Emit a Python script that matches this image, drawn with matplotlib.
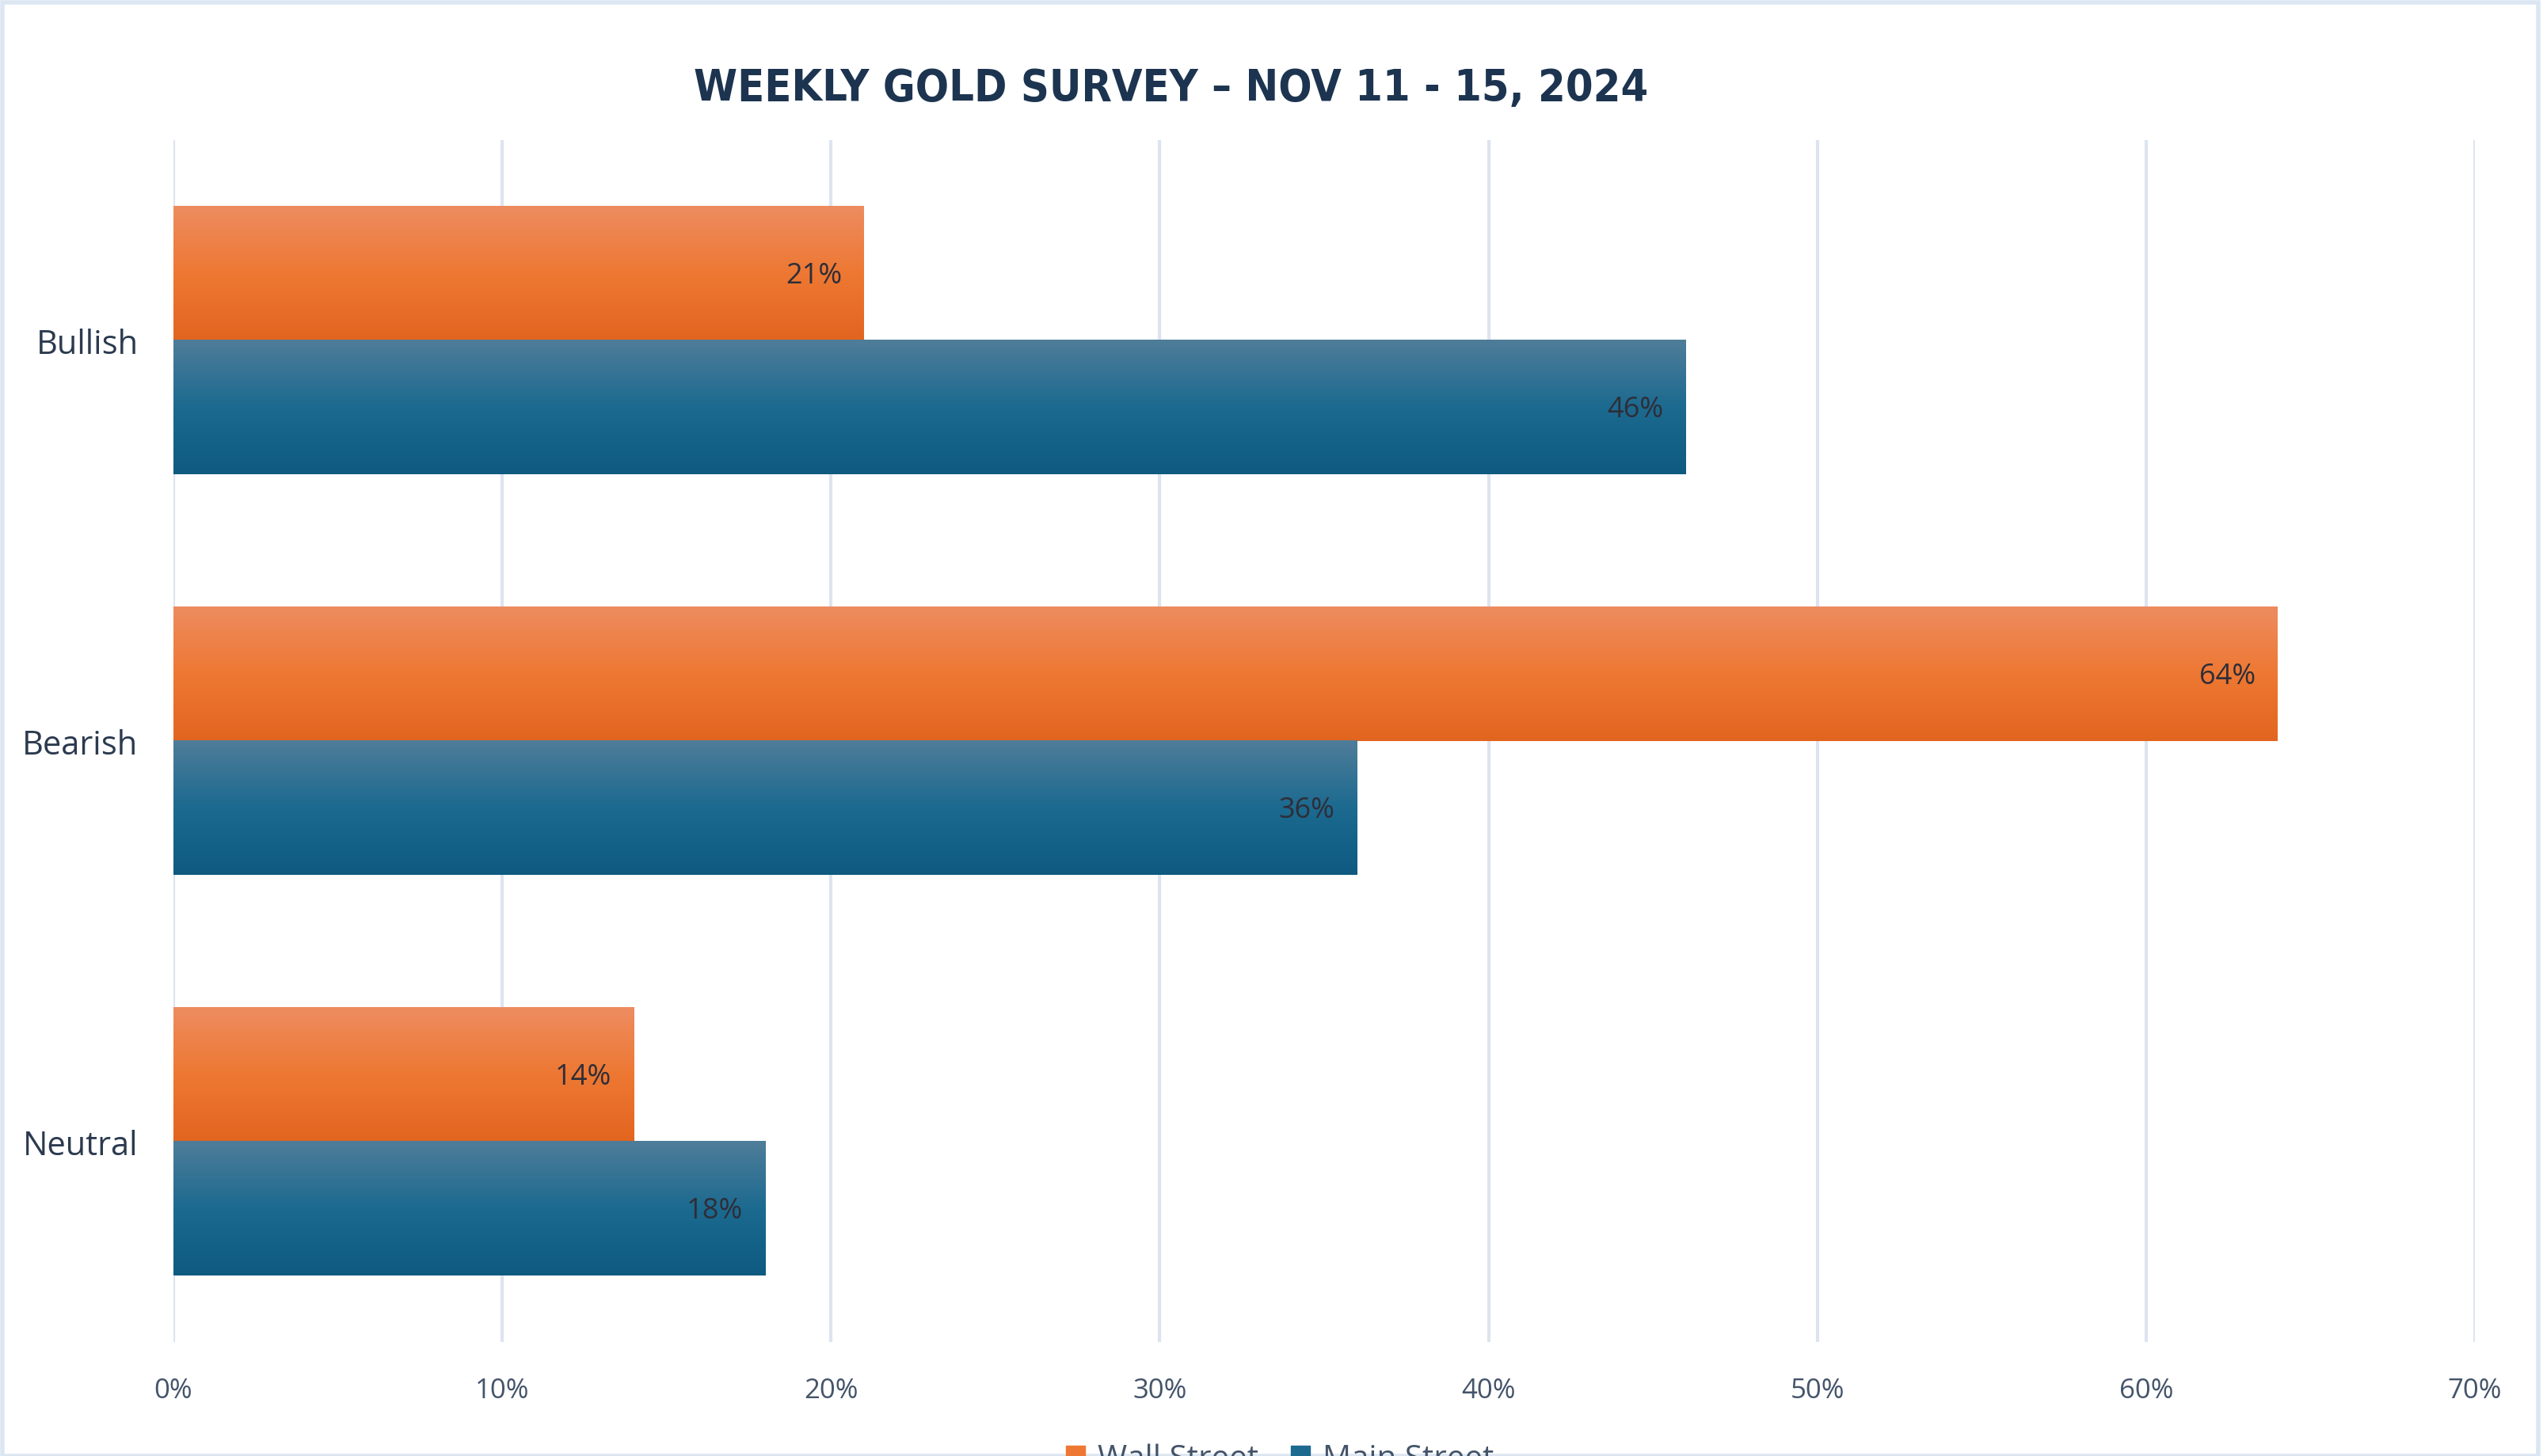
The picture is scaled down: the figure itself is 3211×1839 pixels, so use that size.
import matplotlib
matplotlib.use("Agg")
import matplotlib.pyplot as plt
import numpy as np
from matplotlib.colors import LinearSegmentedColormap
from matplotlib.patches import Rectangle

categories = ["Bullish", "Bearish", "Neutral"]
wall_street = [21, 64, 14]
main_street = [46, 36, 18]
series_names = ["Wall Street", "Main Street"]
x_ticks = [0, 10, 20, 30, 40, 50, 60, 70]

plt.rcParams['font.family'] = ['Open Sans', 'DejaVu Sans']

orange_cmap = LinearSegmentedColormap.from_list("orange", ["#ED8C60", "#EE7833", "#E2651F"])
blue_cmap = LinearSegmentedColormap.from_list("blue", ["#4F7D99", "#1C6A90", "#0E5A80"])

fig = plt.figure(figsize=(32.11, 18.40), dpi=100)
ax = fig.add_axes([0.0682, 0.0783, 0.9050, 0.8250])

y = np.arange(len(categories))
h = 0.335
bars_w = ax.barh(y - h / 2, wall_street, height=h, color="#EE7833", label=series_names[0])
bars_m = ax.barh(y + h / 2, main_street, height=h, color="#1C6A90", label=series_names[1])

grad = np.linspace(0, 1, 256).reshape(-1, 1)
for bars, cmap in [(bars_w, orange_cmap), (bars_m, blue_cmap)]:
    for b in bars:
        x0, y0 = b.get_x(), b.get_y()
        w, hh = b.get_width(), b.get_height()
        # y axis is inverted, so the top of the bar is y0
        ax.imshow(grad, cmap=cmap, aspect="auto", extent=[x0, x0 + w, y0 + hh, y0],
                  zorder=3, interpolation="bicubic")
        b.set_alpha(0)

for bars, vals in [(bars_w, wall_street), (bars_m, main_street)]:
    for b, v in zip(bars, vals):
        ax.annotate(f"{v}%", xy=(b.get_width(), b.get_y() + b.get_height() / 2),
                    xytext=(-20, -2), textcoords="offset points", ha="right", va="center",
                    fontsize=26, color="#2E2E38", zorder=5)

ax.set_xlim(0, 70)
ax.set_ylim(2.5, -0.5)
ax.set_xticks(x_ticks)
ax.set_xticklabels([f"{t}%" for t in x_ticks], fontsize=25, color="#44546A")
ax.set_yticks(y)
ax.set_yticklabels(categories, fontsize=30, color="#2B3A4F")
ax.tick_params(axis="x", length=0, pad=32)
ax.tick_params(axis="y", length=0, pad=32)
ax.grid(axis="x", color="#DCE4F0", linewidth=3, zorder=0)
ax.set_axisbelow(True)
for s in ax.spines.values():
    s.set_visible(False)

fig.text(1479 / 3211, 1 - 112 / 1840, "WEEKLY GOLD SURVEY – NOV 11 - 15, 2024",
         ha="center", va="center", fontsize=40, fontweight="bold", color="#1C3450",
         family=["DejaVu Sans"], fontstretch="condensed")

fig.legend(handles=[Rectangle((0, 0), 1, 1, color="#EE7833"), Rectangle((0, 0), 1, 1, color="#1C6A90")],
           labels=series_names, loc="upper center", bbox_to_anchor=(1616 / 3211, 1 - 1803 / 1840),
           ncol=2, frameon=False, fontsize=29, handlelength=0.6, handleheight=0.6,
           columnspacing=1.0, handletextpad=0.4, labelcolor="#44546A", borderpad=0)

fig.patches.append(Rectangle((0.001, 0.0), 0.997, 0.998, transform=fig.transFigure,
                             fill=False, edgecolor="#DCE6F2", linewidth=4))

fig.savefig("out.png", dpi=100)
